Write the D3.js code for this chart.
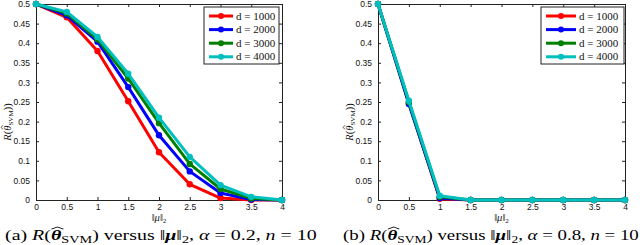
<!DOCTYPE html>
<html>
<head>
<meta charset="utf-8">
<script src="https://cdn.jsdelivr.net/npm/d3@7"></script>
<style>
  body { margin: 0; background: #fff; }
  svg { display: block; }
  .tick text { font-family: "Liberation Sans", Arial, sans-serif; }
  .serif { font-family: "Liberation Serif", "DejaVu Serif", serif; }
</style>
</head>
<body>
<svg width="640" height="245"></svg>
<script>
// x values (||mu||_2)
var muValues = [0, 0.5, 1, 1.5, 2, 2.5, 3, 3.5, 4];
var seriesNames = ["d = 1000", "d = 2000", "d = 3000", "d = 4000"];
var xTicks = [0, 0.5, 1, 1.5, 2, 2.5, 3, 3.5, 4];
var yTicks = [0, 0.05, 0.1, 0.15, 0.2, 0.25, 0.3, 0.35, 0.4, 0.45, 0.5];

// panel (a): alpha = 0.2
var riskA1000 = [0.5, 0.466, 0.38, 0.252, 0.122, 0.04, 0.005, 0.0, 0];
var riskA2000 = [0.5, 0.471, 0.404, 0.288, 0.165, 0.073, 0.018, 0.001, 0];
var riskA3000 = [0.5, 0.476, 0.41, 0.31, 0.196, 0.092, 0.028, 0.004, 0];
var riskA4000 = [0.5, 0.48, 0.416, 0.322, 0.21, 0.11, 0.038, 0.008, 0];

// panel (b): alpha = 0.8
var riskB1000 = [0.5, 0.248, 0.003, 0, 0, 0, 0, 0, 0];
var riskB2000 = [0.5, 0.245, 0.005, 0, 0, 0, 0, 0, 0];
var riskB3000 = [0.5, 0.25, 0.008, 0, 0, 0, 0, 0, 0];
var riskB4000 = [0.5, 0.253, 0.011, 0, 0, 0, 0, 0, 0];

var colors = ["#ff0000", "#0000ff", "#007f00", "#00bfbf"];

var svg = d3.select("svg");

// builds a text out of tspans; a part with hat:true gets a drawn hat over it
function mathText(g, parts, size, anchor) {
    var text = g.append("text").attr("class", "serif").attr("font-size", size + "px")
        .attr("fill", "#111").attr("text-anchor", anchor || "start");
    var idx = 0, hatIdx = -1;
    parts.forEach(function (p) {
        var ts = text.append("tspan").text(p.t);
        if (p.it) ts.attr("font-style", "italic");
        if (p.b) ts.attr("font-weight", "bold");
        if (p.fs) ts.attr("font-size", p.fs + "px");
        if (p.dy) ts.attr("dy", p.dy);
        if (p.hat) hatIdx = idx;
        idx += p.t.length;
    });
    return { text: text, hatIdx: hatIdx };
}

function addHat(g, m, wide) {
    var r = m.text.node().getExtentOfChar(m.hatIdx);
    var x0 = r.x + r.width * (wide ? 0.05 : 0.25), x1 = r.x + r.width * (wide ? 1.2 : 1.05);
    var yb = r.y + r.height * 0.08, yt = r.y - r.height * 0.07;
    g.append("path")
        .attr("d", "M" + x0 + "," + yb + "L" + ((x0 + x1) / 2) + "," + yt + "L" + x1 + "," + yb)
        .attr("fill", "none").attr("stroke", "#111").attr("stroke-width", wide ? 0.9 : 0.7);
}

function drawPanel(p) {
    var x = d3.scaleLinear().domain([0, 4]).range([p.left, p.right]);
    var y = d3.scaleLinear().domain([0, 0.5]).range([200, 4]);
    var g = svg.append("g");

    // bottom axis with labels, ticks pointing inward
    var bottom = g.append("g").attr("transform", "translate(0,200)")
        .call(d3.axisBottom(x).tickValues(xTicks).tickSizeInner(-3).tickSizeOuter(0)
            .tickPadding(4).tickFormat(d3.format("")));
    var left = g.append("g").attr("transform", "translate(" + p.left + ",0)")
        .call(d3.axisLeft(y).tickValues(yTicks).tickSizeInner(-3).tickSizeOuter(0)
            .tickPadding(6).tickFormat(d3.format("")));
    var top = g.append("g").attr("transform", "translate(0,4)")
        .call(d3.axisTop(x).tickValues(xTicks).tickSizeInner(-3).tickSizeOuter(0).tickFormat(""));
    var right = g.append("g").attr("transform", "translate(" + p.right + ",0)")
        .call(d3.axisRight(y).tickValues(yTicks).tickSizeInner(-3).tickSizeOuter(0).tickFormat(""));

    [bottom, left, top, right].forEach(function (a) {
        a.select(".domain").attr("stroke", "#222").attr("stroke-width", 1);
        a.selectAll(".tick line").attr("stroke", "#222");
        a.selectAll(".tick text").attr("font-size", "8.5px").attr("fill", "#111");
    });

    var line = d3.line().x(function (d, i) { return x(muValues[i]); })
        .y(function (d) { return y(d); });

    p.series.forEach(function (s, k) {
        g.append("path").datum(s)
            .attr("fill", "none").attr("stroke", colors[k])
            .attr("stroke-width", 3).attr("stroke-linejoin", "round")
            .attr("d", line);
        g.selectAll(".m" + k).data(s).enter().append("circle")
            .attr("cx", function (d, i) { return x(muValues[i]); })
            .attr("cy", function (d) { return y(d); })
            .attr("r", 3.2).attr("fill", colors[k]);
    });

    // legend
    var lg = g.append("g");
    lg.append("rect").attr("x", p.legX).attr("y", 7)
        .attr("width", p.legW).attr("height", 57)
        .attr("fill", "#fff").attr("stroke", "#222").attr("stroke-width", 1);
    seriesNames.forEach(function (name, k) {
        var yy = 16 + k * 13.6;
        lg.append("line").attr("x1", p.legX + 5).attr("x2", p.legX + 5 + p.sampleW)
            .attr("y1", yy).attr("y2", yy)
            .attr("stroke", colors[k]).attr("stroke-width", 3);
        lg.append("circle").attr("cx", p.legX + 5 + p.sampleW / 2).attr("cy", yy)
            .attr("r", 3).attr("fill", colors[k]);
        lg.append("text").attr("class", "serif").attr("x", p.legX + 8 + p.sampleW).attr("y", yy + 3.5)
            .attr("font-size", "11px").attr("fill", "#111").text(name);
    });

    // y label: R(theta_hat_SVM))
    var yg = g.append("g").attr("transform", "translate(" + p.yLabX + ",122) rotate(-90)");
    var yl = mathText(yg, [
        { t: "R", it: true }, { t: "(" }, { t: "θ", it: true, hat: true },
        { t: "SVM", fs: 7, dy: 2 }, { t: "))", dy: -2 }
    ], 10.5, "middle");
    addHat(yg, yl, false);

    // x label ||mu||_2
    var xg = g.append("g").attr("transform", "translate(" + ((p.left + p.right) / 2) + ",221)");
    mathText(xg, [
        { t: "\u2016" }, { t: "μ", it: true }, { t: "\u2016" }, { t: "2", fs: 7, dy: 2 }
    ], 10.5, "middle");

    // caption, stretched to the width it has in the paper
    var cg = g.append("g");
    var cap = mathText(cg, [
        { t: p.tag + " " }, { t: "R", it: true }, { t: "(" },
        { t: "θ", it: true, b: true, hat: true }, { t: "SVM", fs: 10, dy: 2.5 },
        { t: ") versus \u2016", dy: -2.5 }, { t: "μ", it: true, b: true }, { t: "\u2016" },
        { t: "2", fs: 10, dy: 2.5 }, { t: ", ", dy: -2.5 }, { t: "α", it: true },
        { t: " = " + p.alpha + ", " }, { t: "n", it: true }, { t: " = 10" }
    ], 14);
    cap.text.attr("fill", "#000");
    addHat(cg, cap, true);
    var w = cap.text.node().getComputedTextLength();
    cg.attr("transform", "translate(" + p.capX + ",240) scale(" + (p.capW / w) + ",1)");
}

drawPanel({
    left: 36, right: 282, legX: 204, legW: 75, sampleW: 24, yLabX: 11, capX: 5, capW: 312, tag: "(a)", alpha: "0.2",
    series: [riskA1000, riskA2000, riskA3000, riskA4000]
});
drawPanel({
    left: 378, right: 625, legX: 541, legW: 83, sampleW: 30, yLabX: 353, capX: 343, capW: 296, tag: "(b)", alpha: "0.8",
    series: [riskB1000, riskB2000, riskB3000, riskB4000]
});
</script>
</body>
</html>
